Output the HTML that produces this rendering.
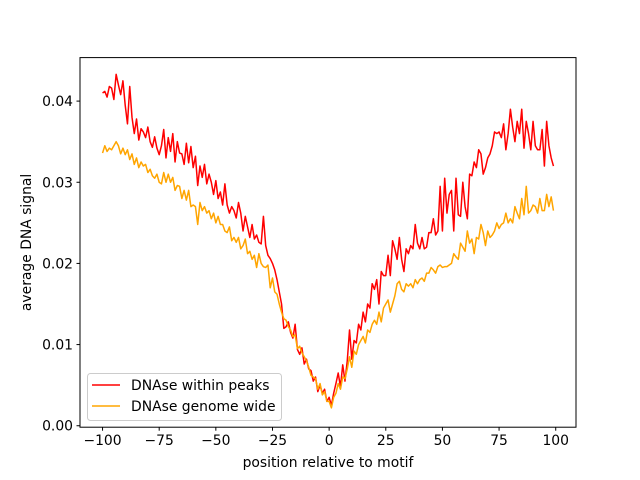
<!DOCTYPE html>
<html><head><meta charset="utf-8"><style>
body{margin:0;background:#fff}
svg{display:block;font-family:"DejaVu Sans","Liberation Sans",sans-serif}
</style></head><body>
<svg id="chart" width="640" height="480" viewBox="0 0 640 480" xmlns="http://www.w3.org/2000/svg">
<rect width="640" height="480" fill="#fff"/>
<g id="plot"></g>
<rect x="80" y="57.6" width="496" height="369.6" fill="none" stroke="#000" stroke-width="1"/>
<g id="axes"></g>
<text x="328" y="467" font-size="13.9" text-anchor="middle">position relative to motif</text>
<text transform="translate(31,242.4) rotate(-90)" font-size="13.9" text-anchor="middle">average DNA signal</text>
<g>
<rect x="87.5" y="373.5" width="194" height="47" rx="3" fill="#fff" fill-opacity="0.8" stroke="#ccc"/>
<line x1="92" y1="385" x2="120" y2="385" stroke="#ff0000" stroke-width="1.5"/>
<text x="131" y="390" font-size="13.9">DNAse within peaks</text>
<line x1="92" y1="406" x2="120" y2="406" stroke="#ffa500" stroke-width="1.5"/>
<text x="131" y="411" font-size="13.9">DNAse genome wide</text>
</g>
</svg>
<script>
const xStart = -100;
const peaksE4 = [410,412,405,418,416,402,433,420,408,425,
395,372,418,380,360,378,352,366,362,355,
368,350,343,356,342,334,345,365,330,355,
338,360,325,350,336,335,322,348,324,344,
318,332,296,320,306,322,298,310,300,285,
302,280,288,272,298,272,262,270,265,256,
275,262,240,258,245,232,248,230,235,226,
224,258,222,210,206,200,192,180,165,150,
120,122,128,115,108,125,94,88,96,76,
82,70,68,55,60,42,50,40,45,30,
35,25,40,52,65,48,75,55,80,118,
82,105,102,125,118,140,128,150,145,175,
168,180,150,190,185,185,210,185,228,218,
205,232,205,190,218,212,222,218,248,225,
218,232,218,220,238,238,255,235,240,295,
240,305,262,285,290,240,305,260,258,300,
270,255,310,308,325,318,340,335,310,318,
330,335,345,362,360,362,355,372,340,360,
390,368,350,375,360,390,342,375,360,340,
375,345,340,340,365,320,375,345,330,320];
const genomeE4 = [336,345,338,342,340,345,350,345,335,342,
334,340,328,335,322,330,318,325,320,322,
312,316,308,305,310,300,298,312,300,310,
300,306,290,296,295,280,290,278,290,270,
272,270,248,275,265,270,262,265,255,262,
250,258,248,248,240,238,245,228,232,226,
232,218,222,230,212,215,205,210,195,212,
200,196,195,198,170,182,165,162,150,140,
132,130,122,118,110,112,95,98,90,85,
80,72,62,60,58,45,52,38,42,30,
30,22,35,40,52,45,60,58,70,85,
72,92,88,100,105,110,102,118,115,125,
130,125,140,128,145,150,155,140,150,160,
175,178,168,165,175,172,175,170,180,175,
180,182,178,188,188,195,192,188,196,198,
195,196,196,198,200,212,208,205,225,220,
215,240,225,230,212,232,230,248,238,222,
240,232,235,240,250,243,248,250,262,250,
255,250,270,262,255,280,260,295,262,265,
272,270,262,280,265,265,285,270,282,265];
const xTicks = [-100,-75,-50,-25,0,25,50,75,100];
const yTicks = [0,0.01,0.02,0.03,0.04];
const yTickLabels = ["0.00","0.01","0.02","0.03","0.04"];

const L=80,R=576,T=57.6,B=427.2;
const xmin=-109.95,xmax=108.95,ymin=-0.00018,ymax=0.04536;
const sx=v=>L+(v-xmin)/(xmax-xmin)*(R-L);
const sy=v=>B-(v-ymin)/(ymax-ymin)*(B-T);
const NS="http://www.w3.org/2000/svg";
const plot=document.getElementById('plot'), axes=document.getElementById('axes');
function series(arr,color,name){
  const p=document.createElementNS(NS,'path');
  
  
  p.setAttribute('d',arr.map((v,i)=>(i?'L':'M')+sx(xStart+i).toFixed(2)+','+sy(v/10000).toFixed(2)).join(''));
  p.setAttribute('fill','none');p.setAttribute('stroke',color);p.setAttribute('stroke-width','1.5');
  p.setAttribute('stroke-linejoin','round');
  plot.appendChild(p);
}
series(peaksE4,'#ff0000','line-within-peaks');
series(genomeE4,'#ffa500','line-genome-wide');
xTicks.forEach(t=>{
  const l=document.createElementNS(NS,'line');
  
  
  l.setAttribute('x1',sx(t));l.setAttribute('x2',sx(t));l.setAttribute('y1',B);l.setAttribute('y2',B+3.5);l.setAttribute('stroke','#000');
  axes.appendChild(l);
  const tx=document.createElementNS(NS,'text');
  
  
  tx.setAttribute('x',sx(t));tx.setAttribute('y',B+18);tx.setAttribute('font-size','13.9');tx.setAttribute('text-anchor','middle');
  tx.textContent=String(t).replace('-','\u2212');
  axes.appendChild(tx);
});
yTicks.forEach((t,i)=>{
  const l=document.createElementNS(NS,'line');
  
  
  l.setAttribute('x1',L-3.5);l.setAttribute('x2',L);l.setAttribute('y1',sy(t));l.setAttribute('y2',sy(t));l.setAttribute('stroke','#000');
  axes.appendChild(l);
  const tx=document.createElementNS(NS,'text');
  
  
  tx.setAttribute('x',L-7);tx.setAttribute('y',sy(t)+5);tx.setAttribute('font-size','13.9');tx.setAttribute('text-anchor','end');
  tx.textContent=yTickLabels[i];
  axes.appendChild(tx);
});
</script>
</body></html>
